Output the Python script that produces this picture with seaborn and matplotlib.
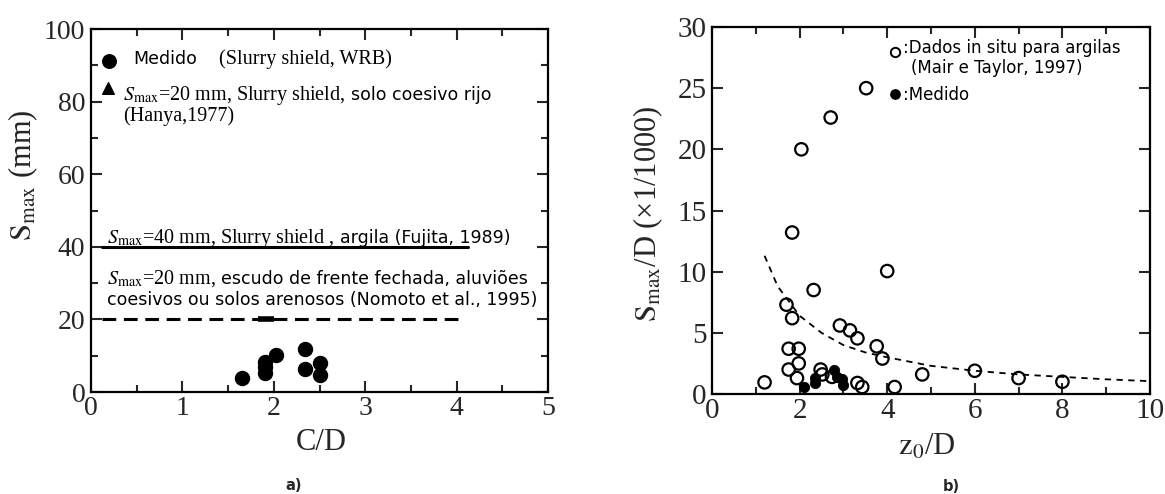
import matplotlib
matplotlib.use("Agg")
import matplotlib.pyplot as plt
from matplotlib.transforms import IdentityTransform
from matplotlib.ticker import MultipleLocator
import seaborn as sns

# ---------------- data ----------------
# panel a) measured settlements (Slurry shield, WRB)
cd_medido = [1.65, 1.9, 1.9, 1.9, 2.02, 2.34, 2.34, 2.5, 2.5]
smax_medido = [3.9, 5.2, 6.8, 8.3, 10.1, 11.9, 6.4, 8.1, 4.6]
# Hanya (1977) reference point
cd_hanya = [1.91]
smax_hanya = [20.0]
# reference limit lines
limit_40_x = [0.12, 4.12]
limit_40_y = [40, 40]
limit_20_x = [0.12, 4.05]
limit_20_y = [20, 20]

# panel b) in situ data for clays (Mair & Taylor, 1997)
z0d_insitu = [1.2, 1.83, 2.04, 2.71, 3.52, 1.70, 1.83, 2.32, 4.0, 1.75, 1.98,
              1.75, 1.98, 1.94, 2.48, 2.52, 2.74, 2.92, 3.15, 3.32, 3.76, 3.89,
              3.32, 3.43, 4.17, 4.8, 6.0, 7.0, 8.0]
sd_insitu = [0.95, 13.2, 20.0, 22.6, 25.0, 7.3, 6.2, 8.5, 10.05, 3.7, 3.7,
             2.0, 2.5, 1.3, 2.0, 1.6, 1.4, 5.6, 5.2, 4.55, 3.9, 2.9,
             0.9, 0.57, 0.57, 1.6, 1.9, 1.3, 1.0]
# panel b) measured
z0d_medido = [2.11, 2.35, 2.35, 2.79, 2.86, 2.97, 3.0]
sd_medido = [0.57, 0.9, 1.3, 2.0, 1.4, 1.2, 0.7]
# panel b) dashed trend curve (read from picture)
curve_x = [1.2, 1.5, 2.0, 2.5, 3.0, 3.5, 4.0, 5.0, 6.0, 7.0, 8.0, 9.0, 10.0]
curve_y = [11.3, 8.8, 6.4, 5.0, 4.0, 3.4, 3.0, 2.3, 1.9, 1.6, 1.4, 1.2, 1.05]

# ---------------- style ----------------
sns.set_style("ticks")
plt.rcParams["font.family"] = ["Liberation Serif", "DejaVu Serif"]
plt.rcParams["mathtext.fontset"] = "stix"
plt.rcParams["axes.linewidth"] = 1.6

W, H = 1165, 494
fig = plt.figure(figsize=(W / 100, H / 100), dpi=100)
fig.patch.set_facecolor("white")

ax1 = fig.add_axes([91 / W, 1 - 392 / H, (548 - 91) / W, (392 - 29) / H])
ax2 = fig.add_axes([712 / W, 1 - 394 / H, (1150 - 712) / W, (394 - 27) / H])

SANS = dict(family=["DejaVu Sans"], color="black")
SERIF = dict(family=["Liberation Serif", "DejaVu Serif"], color="black")

# ---------------- panel a ----------------
sns.lineplot(x=limit_40_x, y=limit_40_y, ax=ax1, color="black", lw=2.2)
sns.lineplot(x=limit_20_x, y=limit_20_y, ax=ax1, color="black", lw=2.2,
             linestyle=(0, (4.5, 2.5)))
sns.scatterplot(x=cd_medido, y=smax_medido, ax=ax1, color="black", s=105,
                edgecolor="black", zorder=3)
sns.scatterplot(x=cd_hanya, y=smax_hanya, ax=ax1, color="black", marker="_",
                s=120, linewidth=4, zorder=3)

ax1.set_xlim(0, 5)
ax1.set_ylim(0, 100)
ax1.xaxis.set_major_locator(MultipleLocator(1))
ax1.xaxis.set_minor_locator(MultipleLocator(0.5))
ax1.yaxis.set_major_locator(MultipleLocator(20))
ax1.yaxis.set_minor_locator(MultipleLocator(10))
ax1.set_xlabel("C/D", fontsize=22, va="center")
ax1.set_ylabel(r"$\mathrm{S}_{\mathrm{max}}$ (mm)", fontsize=22, va="center")
ax1.xaxis.set_label_coords(0.503, -0.14)
ax1.yaxis.set_label_coords(-0.149, 0.598)

# legend markers of panel a (positioned in data units)
ax1.scatter([0.197], [91.2], color="black", s=95, clip_on=False, zorder=3)
ax1.scatter([0.186], [83.7], color="black", marker="^", s=70, clip_on=False, zorder=3)

# ---------------- panel b ----------------
sns.lineplot(x=curve_x, y=curve_y, ax=ax2, color="black", lw=1.3,
             linestyle=(0, (3.5, 3)))
sns.scatterplot(x=z0d_insitu, y=sd_insitu, ax=ax2, facecolor="none",
                edgecolor="black", linewidth=1.6, s=80, zorder=3)
sns.scatterplot(x=z0d_medido, y=sd_medido, ax=ax2, color="black",
                edgecolor="black", s=55, zorder=4)
ax2.scatter([4.18], [27.96], facecolor="white", edgecolor="black", linewidth=1.4,
            s=45, zorder=3)
ax2.scatter([4.18], [24.5], color="black", s=45, zorder=3)

ax2.set_xlim(0, 10)
ax2.set_ylim(0, 30)
ax2.xaxis.set_major_locator(MultipleLocator(2))
ax2.xaxis.set_minor_locator(MultipleLocator(1))
ax2.yaxis.set_major_locator(MultipleLocator(5))
ax2.set_xlabel(r"$\mathrm{z}_0$/D", fontsize=22, va="center")
ax2.set_ylabel(r"$\mathrm{S}_{\mathrm{max}}$/D (×1/1000)", fontsize=22, va="center")
ax2.xaxis.set_label_coords(0.49, -0.144)
ax2.yaxis.set_label_coords(-0.146, 0.49)

for ax, fs in ((ax1, 20), (ax2, 21)):
    ax.tick_params(which="both", direction="in", top=True, right=True,
                   width=1.5, labelsize=fs)
    ax.tick_params(which="major", length=8)
    ax.tick_params(which="minor", length=5)
    ax.tick_params(axis="x", pad=3)
    ax.tick_params(axis="y", pad=4)
    for sp in ax.spines.values():
        sp.set_visible(True)
        sp.set_linewidth(1.6)
        sp.set_color("black")

# ---------------- annotation text ----------------
renderer = fig.canvas.get_renderer()


def rich(x, y_top, parts):
    xp = x
    for s, props, size in parts:
        text = s.rstrip(" ")
        gap = (len(s) - len(text)) * 0.27 * size * 100 / 72
        t = fig.text(xp, H - y_top, text, transform=IdentityTransform(),
                     ha="left", va="baseline", fontsize=size, **props)
        xp = t.get_window_extent(renderer=renderer).x1 + gap


SM = r"$S_{\rm max}$"
rich(133, 64, [("Medido", SANS, 12.5)])
rich(219, 64, [("(Slurry shield, WRB)", SERIF, 14.5)])
rich(123, 100, [(SM + "=20 mm, Slurry shield, ", SERIF, 14.5),
                ("solo coesivo rijo", SANS, 12.5)])
rich(123, 121, [("(Hanya,1977)", SERIF, 14.5)])
rich(107, 243, [(SM + "=40 mm, Slurry shield , ", SERIF, 14.5),
                ("argila (Fujita, 1989)", SANS, 12.5)])
rich(107, 284, [(SM + "=20 mm, ", SERIF, 14.5),
                ("escudo de frente fechada, aluviões", SANS, 12.5)])
rich(107, 305, [("coesivos ou solos arenosos (Nomoto et al., 1995)", SANS, 12.5)])

rich(903, 53, [(":Dados in situ para argilas", SANS, 12)])
rich(911, 73, [("(Mair e Taylor, 1997)", SANS, 12)])
rich(903, 100, [(":Medido", SANS, 12)])

fig.text(294 / W, 1 - 485 / H, "a)", ha="center", va="center",
         fontsize=10.5, fontweight="bold", family=["DejaVu Sans"])
fig.text(951 / W, 1 - 486 / H, "b)", ha="center", va="center",
         fontsize=10.5, fontweight="bold", family=["DejaVu Sans"])

fig.savefig("out.png", dpi=100, facecolor="white")
